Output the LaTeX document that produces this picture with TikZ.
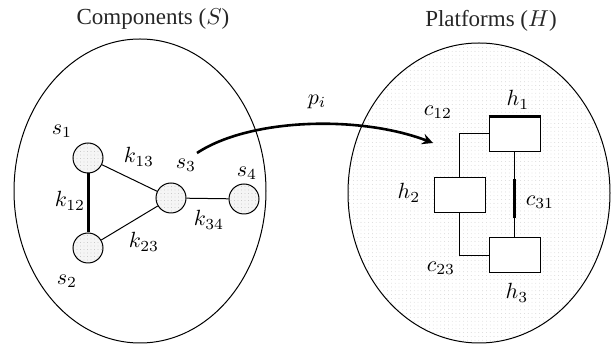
\documentclass[tikz,border=0pt]{standalone}
\usepackage{fontspec}
\setmainfont{Liberation Serif}
\usetikzlibrary{arrows.meta,patterns.meta}
\begin{document}
\begin{tikzpicture}[x=1pt,y=-1pt,
  dotfill/.style={pattern={Dots[distance=3.5pt,radius=0.45pt]},pattern color=gray!60},
  lightdots/.style={pattern={Dots[distance=3.8pt,radius=0.4pt]},pattern color=gray!45},
  comp/.style={circle,draw,line width=1pt,minimum size=30pt,inner sep=0pt,
    preaction={fill=gray!8},dotfill},
  plat/.style={rectangle,draw,line width=1pt,fill=white,minimum width=51pt,minimum height=35pt,inner sep=0pt},
  lbl/.style={font=\fontsize{10}{12}\selectfont,inner sep=0pt,scale=2.2},
  ttl/.style={font=\fontsize{10}{12}\selectfont,text=black!85,inner sep=0pt,scale=2.3},
  link/.style={line width=1pt},
  thicklink/.style={line width=3pt}]
\useasboundingbox (0,0) rectangle (611,344);

% two sets
\draw[line width=1pt] (140,191) ellipse [x radius=126, y radius=152];
\draw[line width=1pt,lightdots] (479,193) ellipse [x radius=131, y radius=150];

\node[ttl] (tS) at (153,19) {Components ($S$)};
\node[ttl] (tH) at (491,21) {Platforms ($H$)};

% components
\node[comp] (s1) at (88,158) {};
\node[comp] (s2) at (88,248) {};
\node[comp] (s3) at (171,198) {};
\node[comp] (s4) at (244,199) {};

\draw[thicklink] (s1) -- (s2);
\draw[link] (s1) -- (s3);
\draw[link] (s2) -- (s3);
\draw[link] (s3) -- (s4);

\node[lbl] (ls1) at (62,131) {$s_1$};
\node[lbl] (ls2) at (67,281) {$s_2$};
\node[lbl] (ls3) at (186,165) {$s_3$};
\node[lbl] (ls4) at (247,173) {$s_4$};
\node[lbl] (lk13) at (139,157) {$k_{13}$};
\node[lbl] (lk12) at (70,201) {$k_{12}$};
\node[lbl] (lk23) at (144,242) {$k_{23}$};
\node[lbl] (lk34) at (209,220) {$k_{34}$};

% platforms
\node[plat] (h1) at (514.5,134.5) {};
\node[plat] (h2) at (459.5,195) {};
\node[plat] (h3) at (514.5,255.5) {};

\draw[line width=3pt] (h1.north west) -- (h1.north east);
\draw[link] (h1.west |- 0,134) -| (h2.north);
\draw[link] (h2.south) |- (h3.west);
\draw[link] (h1.south) -- (h3.north);
\coordinate (c31a) at (514.5,179);
\coordinate (c31b) at (514.5,218);
\draw[thicklink] (c31a) -- (c31b);

\node[lbl] (lh1) at (518,100) {$h_1$};
\node[lbl] (lh2) at (409,193) {$h_2$};
\node[lbl] (lh3) at (517,293) {$h_3$};
\node[lbl] (lc12) at (438,112) {$c_{12}$};
\node[lbl] (lc31) at (540,202) {$c_{31}$};
\node[lbl] (lc23) at (441,268) {$c_{23}$};

% mapping
\coordinate (pa) at (197,153);
\coordinate (pb) at (433,143);
\draw[line width=2.6pt,-{Stealth[length=11pt,width=11pt,inset=4pt]}]
  (pa) .. controls (250,118) and (360,115) .. (pb);
\node[lbl] (lp) at (317,102) {$p_i$};
\end{tikzpicture}
\end{document}
